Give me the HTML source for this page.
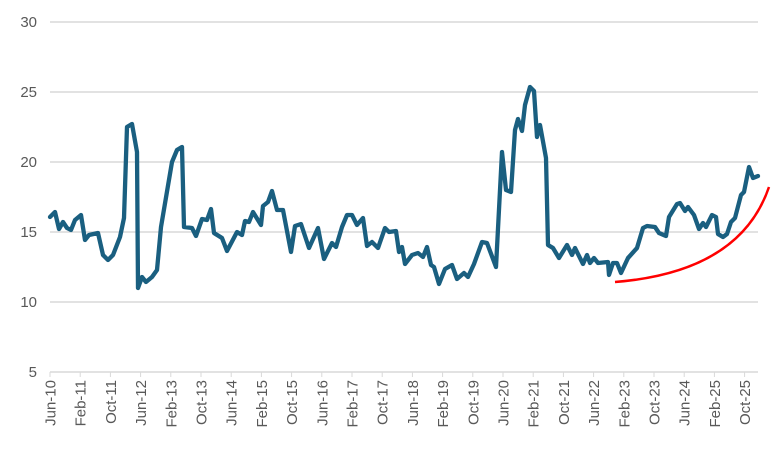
<!DOCTYPE html>
<html><head><meta charset="utf-8"><style>
body{margin:0;background:#fff;}
svg{display:block;font-family:"Liberation Sans",sans-serif;}
</style></head><body>
<svg width="782" height="450" viewBox="0 0 782 450">
<g stroke="#d9d9d9" stroke-width="1.5">
<line x1="50" y1="22" x2="758" y2="22"/><line x1="50" y1="92" x2="758" y2="92"/>
<line x1="50" y1="162" x2="758" y2="162"/><line x1="50" y1="232" x2="758" y2="232"/>
<line x1="50" y1="302" x2="758" y2="302"/><line x1="50" y1="372" x2="758" y2="372"/>
</g>
<g fill="#595959" font-size="15" text-anchor="end">
<text x="37" y="27">30</text><text x="37" y="97">25</text><text x="37" y="167">20</text>
<text x="37" y="237">15</text><text x="37" y="307">10</text><text x="37" y="377">5</text>
</g>
<g stroke="#d9d9d9" stroke-width="1">
<line x1="50" y1="372" x2="50" y2="377"/><line x1="80.2" y1="372" x2="80.2" y2="377"/><line x1="110.4" y1="372" x2="110.4" y2="377"/><line x1="140.6" y1="372" x2="140.6" y2="377"/><line x1="170.8" y1="372" x2="170.8" y2="377"/><line x1="201" y1="372" x2="201" y2="377"/><line x1="231.2" y1="372" x2="231.2" y2="377"/><line x1="261.4" y1="372" x2="261.4" y2="377"/><line x1="291.6" y1="372" x2="291.6" y2="377"/><line x1="321.8" y1="372" x2="321.8" y2="377"/><line x1="352" y1="372" x2="352" y2="377"/><line x1="382.2" y1="372" x2="382.2" y2="377"/><line x1="412.4" y1="372" x2="412.4" y2="377"/><line x1="442.6" y1="372" x2="442.6" y2="377"/><line x1="472.8" y1="372" x2="472.8" y2="377"/><line x1="503" y1="372" x2="503" y2="377"/><line x1="533.2" y1="372" x2="533.2" y2="377"/><line x1="563.4" y1="372" x2="563.4" y2="377"/><line x1="593.6" y1="372" x2="593.6" y2="377"/><line x1="623.8" y1="372" x2="623.8" y2="377"/><line x1="654" y1="372" x2="654" y2="377"/><line x1="684.2" y1="372" x2="684.2" y2="377"/><line x1="714.4" y1="372" x2="714.4" y2="377"/><line x1="744.6" y1="372" x2="744.6" y2="377"/>
</g>
<g fill="#595959" font-size="15" text-anchor="end">
<text transform="translate(55.5,380) rotate(-90)">Jun-10</text>
<text transform="translate(85.7,380) rotate(-90)">Feb-11</text>
<text transform="translate(115.9,380) rotate(-90)">Oct-11</text>
<text transform="translate(146.1,380) rotate(-90)">Jun-12</text>
<text transform="translate(176.3,380) rotate(-90)">Feb-13</text>
<text transform="translate(206.5,380) rotate(-90)">Oct-13</text>
<text transform="translate(236.7,380) rotate(-90)">Jun-14</text>
<text transform="translate(266.9,380) rotate(-90)">Feb-15</text>
<text transform="translate(297.1,380) rotate(-90)">Oct-15</text>
<text transform="translate(327.3,380) rotate(-90)">Jun-16</text>
<text transform="translate(357.5,380) rotate(-90)">Feb-17</text>
<text transform="translate(387.7,380) rotate(-90)">Oct-17</text>
<text transform="translate(417.9,380) rotate(-90)">Jun-18</text>
<text transform="translate(448.1,380) rotate(-90)">Feb-19</text>
<text transform="translate(478.3,380) rotate(-90)">Oct-19</text>
<text transform="translate(508.5,380) rotate(-90)">Jun-20</text>
<text transform="translate(538.7,380) rotate(-90)">Feb-21</text>
<text transform="translate(568.9,380) rotate(-90)">Oct-21</text>
<text transform="translate(599.1,380) rotate(-90)">Jun-22</text>
<text transform="translate(629.3,380) rotate(-90)">Feb-23</text>
<text transform="translate(659.5,380) rotate(-90)">Oct-23</text>
<text transform="translate(689.7,380) rotate(-90)">Jun-24</text>
<text transform="translate(719.9,380) rotate(-90)">Feb-25</text>
<text transform="translate(750.1,380) rotate(-90)">Oct-25</text>
</g>
<polyline fill="none" stroke="#1a5f80" stroke-width="4.3" stroke-linejoin="round" stroke-linecap="round" points="50,217 55,212 59,229 63,222 67,228 71,230 75,220 81,215 85,240 89,235 98,233 103,255 108,260 113,255 120,237 124,218 127,127 132,124 137,152 138,288 142,277 146,282 152,277 157,270 161,227 172,162 177,150 182,147 184,227 192,228 196,236 202,219 207,220 211,209 214,233 222,238 227,251 237,232 242,235 245,221 249,222 253,212 261,225 263,206 268,202 272,191 277,210 283,210 291,252 295,226 301,224 309,248 318,228 324,259 332,243 336,247 342,227 347,215 352,215 357,225 363,218 367,246 372,242 378,248 385,228 389,232 396,231 399,252 402,247 405,264 412,255 418,253 423,257 427,247 431,265 434,267 439,284 445,269 452,265 457,279 464,273 468,277 474,264 482,242 487,243 496,267 502,152 506,190 511,192 515,130 518,119 522,131 525,105 530,87 534,91 537,137 540,125 546,158 548,245 553,248 559,258 567,245 572,255 575,248 583,264 587,255 590,263 594,258 598,263 608,262 609,275 613,263 617,263 621,273 628,258 637,248 643,228 647,226 655,227 659,233 666,236 669,217 677,204 680,203 685,211 688,207 694,215 699,229 703,223 706,227 712,215 716,217 718,234 723,237 727,234 731,222 735,218 741,195 744,192 749,167 753,178 758,176"/>
<path d="M615,282 Q740,272 769,187" fill="none" stroke="#ff0000" stroke-width="2.5"/>
</svg>
</body></html>
